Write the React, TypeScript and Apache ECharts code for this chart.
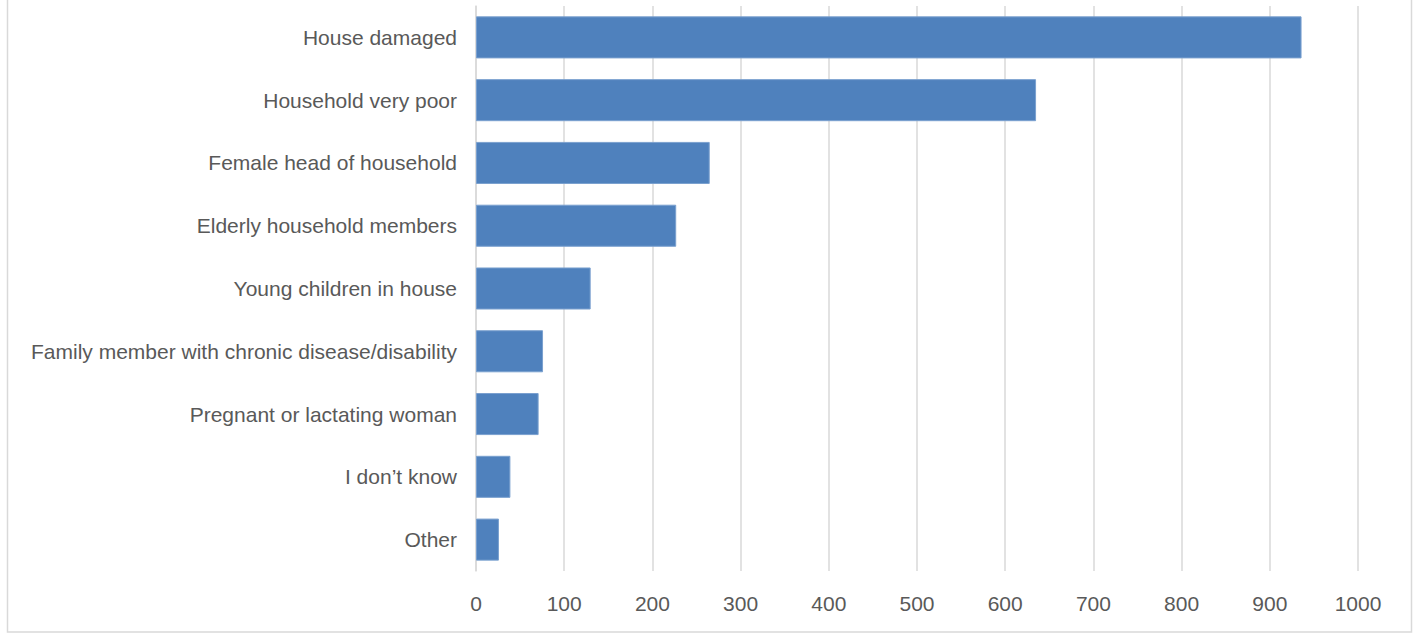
import React, { useEffect, useRef } from "react";
import * as echarts from "echarts";

const categories = [
  "House damaged",
  "Household very poor",
  "Female head of household",
  "Elderly household members",
  "Young children in house",
  "Family member with chronic disease/disability",
  "Pregnant or lactating woman",
  "I don\u2019t know",
  "Other",
];
const values = [936, 635, 265, 227, 130, 76, 71, 39, 26];

export default function App() {
  const ref = useRef<HTMLDivElement>(null);
  useEffect(() => {
    const chart = echarts.init(ref.current!, null, { renderer: "svg" });
    chart.setOption({
      animation: false,
      backgroundColor: "#ffffff",
      textStyle: { fontFamily: "Liberation Sans, Arial, sans-serif" },
      graphic: [
        {
          type: "rect",
          shape: { x: 7.5, y: -5, width: 1404, height: 637 },
          style: { fill: "none", stroke: "#d9d9d9", lineWidth: 1.5 },
          silent: true,
        },
      ],
      grid: { left: 476, right: 58, top: 6, bottom: 63, containLabel: false },
      xAxis: {
        type: "value",
        min: 0,
        max: 1000,
        interval: 100,
        axisLine: { show: false },
        axisTick: { show: false },
        splitLine: { show: true, lineStyle: { color: "#d9d9d9", width: 1.5 } },
        axisLabel: {
          color: "#595959",
          fontSize: 21,
          margin: 22,
          formatter: (v: number) => String(v),
        },
      },
      yAxis: {
        type: "category",
        data: categories,
        inverse: true,
        axisLine: { show: true, lineStyle: { color: "#d9d9d9", width: 1.5 } },
        axisTick: { show: false },
        axisLabel: { color: "#595959", fontSize: 21, margin: 19 },
      },
      series: [
        {
          type: "bar",
          data: values,
          barCategoryGap: "33%",
          itemStyle: { color: "#4f81bd", borderColor: "#7aa0cf", borderWidth: 1 },
        },
      ],
    });
    return () => chart.dispose();
  }, []);
  return (
    <div
      ref={ref}
      style={{ position: "absolute", left: 0, top: 0, width: 1416, height: 634 }}
    />
  );
}
